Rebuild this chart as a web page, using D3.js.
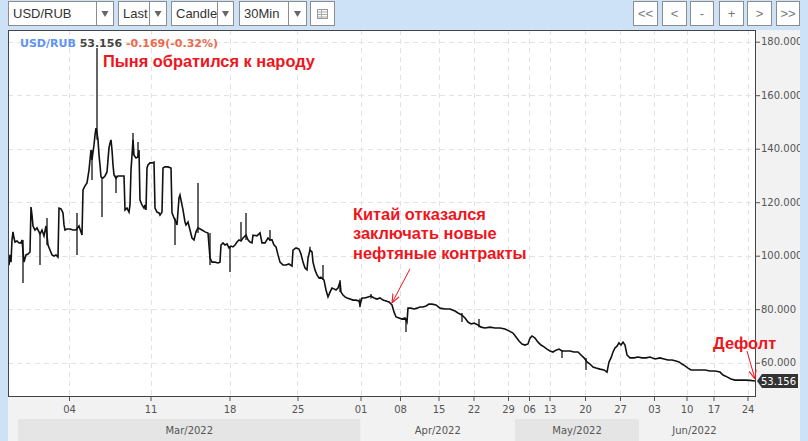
<!DOCTYPE html>
<html><head><meta charset="utf-8">
<script src="https://cdn.jsdelivr.net/npm/d3@7"></script>
<style>
html,body{margin:0;padding:0;background:#cde1f7;overflow:hidden}
svg{display:block}
</style></head><body>
<svg id="c" width="808" height="441"></svg>
<script>
// ---------- DATA ----------
const symbol = "USD/RUB";
const lastPrice = 53.156;
const change = -0.169;
const changePct = -0.32;
const toolbarSelects = ["USD/RUB", "Last", "Candle", "30Min"];
const navButtons = ["<<", "<", "-", "+", ">", ">>"];

// 30-min bar index -> close price
const closeSeries = [[2,96.5],[4,100.3],[6,97.6],[8,105.9],[10,108.9],[12,106.6],[14,105.1],[18,105.5],[22,104.8],[26,104.8],[28,105.9],[32,97.6],[36,100.3],[40,100.6],[44,101.4],[46,118.2],[48,115.2],[50,111.1],[54,109.6],[58,110.4],[62,108.9],[64,108.1],[68,109.6],[72,107.4],[76,111.1],[80,104.0],[84,102.1],[88,100.3],[92,99.9],[96,100.3],[100,99.5],[102,117.8],[106,117.5],[110,116.0],[112,111.5],[114,109.6],[118,110.0],[124,110.0],[130,109.6],[136,109.6],[142,111.1],[146,108.9],[148,107.7],[150,124.6],[154,126.1],[158,127.2],[162,132.0],[164,135.8],[166,139.5],[168,135.8],[172,141.4],[174,145.1],[176,147.7],[178,145.9],[180,143.3],[182,137.6],[184,133.9],[186,129.4],[190,129.0],[194,129.8],[198,131.3],[200,135.8],[202,140.3],[204,142.1],[206,143.3],[208,139.5],[210,133.9],[212,130.2],[216,129.0],[220,129.8],[226,129.8],[232,129.8],[234,117.1],[238,117.8],[242,116.3],[244,119.0],[246,132.0],[248,137.6],[250,143.3],[252,137.6],[256,136.5],[260,136.9],[262,139.5],[264,120.8],[268,119.0],[272,117.8],[274,119.0],[276,117.1],[278,132.8],[280,133.9],[284,134.7],[288,134.7],[292,135.0],[294,117.8],[298,116.3],[302,116.0],[304,115.2],[308,116.3],[310,132.8],[314,133.2],[320,133.2],[326,132.8],[328,116.0],[332,114.1],[336,112.6],[338,111.5],[342,121.6],[344,122.7],[346,120.8],[350,117.1],[354,112.6],[356,111.5],[360,112.6],[364,109.6],[368,106.6],[372,105.9],[376,108.9],[380,110.4],[388,109.6],[394,108.9],[400,108.5],[404,99.1],[408,97.6],[414,97.6],[420,97.3],[424,97.6],[426,104.0],[430,104.8],[434,104.0],[438,104.4],[442,102.9],[446,103.6],[450,103.3],[454,104.0],[458,105.1],[462,105.9],[466,105.5],[470,106.6],[476,107.7],[480,105.9],[484,105.1],[488,104.8],[490,107.7],[498,107.4],[504,108.5],[508,104.8],[514,104.8],[520,106.6],[524,105.9],[528,105.9],[532,104.0],[536,103.3],[540,100.3],[544,97.6],[550,96.5],[556,96.5],[562,96.9],[568,96.1],[570,102.1],[576,102.9],[582,102.5],[586,100.6],[590,97.6],[594,95.4],[598,94.7],[600,99.1],[604,102.1],[608,101.4],[610,97.6],[614,94.7],[618,92.8],[622,91.7],[626,92.0],[632,90.9],[636,87.2],[640,84.6],[644,86.4],[648,87.9],[652,87.6],[656,87.2],[660,87.9],[664,90.2],[666,86.4],[670,85.3],[674,84.6],[678,84.2],[684,83.8],[690,83.4],[696,83.4],[702,83.1],[704,81.6],[708,84.2],[714,84.2],[720,84.6],[726,84.9],[732,84.2],[738,83.8],[744,84.2],[750,83.4],[756,83.1],[762,82.7],[768,81.6],[772,79.0],[776,77.1],[782,76.7],[788,76.3],[794,76.7],[798,75.2],[800,80.4],[806,80.4],[812,80.1],[818,80.4],[824,80.8],[830,80.8],[836,81.2],[842,81.9],[848,81.9],[856,81.6],[864,80.4],[874,80.1],[884,80.1],[894,79.3],[900,78.6],[908,77.8],[914,76.7],[920,75.2],[926,74.5],[932,74.8],[940,74.1],[946,73.3],[954,73.0],[964,73.3],[974,73.0],[984,73.0],[994,72.6],[1002,71.9],[1010,71.1],[1016,69.6],[1022,68.1],[1028,67.0],[1034,66.6],[1040,67.0],[1044,69.2],[1048,70.0],[1054,69.2],[1060,67.7],[1066,66.6],[1072,65.9],[1078,65.1],[1084,64.4],[1090,64.0],[1096,64.7],[1102,65.1],[1108,64.4],[1116,64.4],[1124,64.4],[1132,64.0],[1140,64.0],[1146,62.9],[1152,61.8],[1158,60.3],[1164,59.5],[1170,58.4],[1176,58.0],[1184,57.6],[1192,57.3],[1198,56.5],[1202,60.3],[1206,61.8],[1210,64.0],[1214,65.5],[1218,66.2],[1222,67.4],[1226,66.6],[1230,67.7],[1234,66.6],[1238,62.9],[1244,61.8],[1252,61.8],[1260,62.1],[1268,61.8],[1276,61.8],[1284,62.1],[1294,61.4],[1304,61.8],[1312,61.4],[1320,61.0],[1328,61.0],[1336,60.6],[1342,60.3],[1348,59.5],[1354,58.8],[1360,58.0],[1366,57.3],[1374,57.3],[1384,57.3],[1394,57.3],[1404,56.9],[1414,56.9],[1424,56.5],[1430,55.4],[1438,54.7],[1446,53.9],[1454,53.5],[1464,53.5],[1474,53.5],[1484,53.4],[1494,53.156]];

// bar index, low, high (long candle wicks)
const wicks = [[30,89.8,105.9],[64,96.5,108.1],[78,104.0,114.1],[138,100.3,116.0],[168,128.3,139.5],[178,143.3,177.6],[188,114.5,129.4],[216,123.4,130.0],[250,137.6,145.9],[260,136.5,142.5],[334,104.0,114.0],[380,108.5,127.2],[404,96.5,108.5],[444,93.9,103.6],[466,105.5,112.6],[476,105.9,116.0],[524,105.5,109.6],[604,101.4,103.3],[630,90.9,96.5],[664,86.4,90.9],[704,80.8,84.0],[726,84.0,85.7],[796,71.5,76.7],[908,75.2,78.6],[942,73.3,76.3],[1108,61.8,64.7],[1156,57.3,61.8]];

const dayTickLabels = ["04","11","18","25","01","08","15","22","29","06","13","20","27","03","10","17","24"];
const dayTickBars   = [122,285,443,579,705,784,861,931,1000,1042,1083,1154,1224,1292,1357,1411,1479];
const monthLabels = ["Feb/2022","Mar/2022","Apr/2022","May/2022","Jun/2022"];
const monthStartBars = [0,20,705,1014,1262];
const priceTicks = [60,80,100,120,140,160,180];
const totalBars = 1496;
const priceMin = 47.18, priceMax = 184.37;

const annotations = [
  {lines:["Пыня обратился к народу"], bar:178, price:177.6, dx:6, dy:19, arrow:false},
  {lines:["Китай отказался","заключать новые","нефтяные контракты"], bar:768, price:81.6, dx:-39, dy:-85, arrow:true, ax:18, ay:-36},
  {lines:["Дефолт"], bar:1494, price:53.156, dx:-42, dy:-32, arrow:true, ax:-8, ay:-30}
];

// ---------- LAYOUT ----------
const svg = d3.select("#c");
const P = {l:8, t:30, r:756, b:397};
const axisRightEdge = 800;
const x = d3.scaleLinear().domain([0,totalBars]).range([P.l,P.r]);
const y = d3.scaleLinear().domain([priceMin,priceMax]).range([P.b,P.t]);
const FONT_UI = "'Liberation Sans', Arial, sans-serif";
const FONT_AX = "'DejaVu Sans', sans-serif";
const loc = d3.formatLocale({decimal:".", thousands:",", grouping:[3], currency:["",""], minus:"-"});
const f3 = loc.format(".3f"), f2 = loc.format(".2f");

// ---------- toolbar ----------
const selBoxes = [[8,113,96],[118,166,149],[171,233,217],[239,306,288]];
const defs = svg.append("defs");
selBoxes.forEach((b,i)=>{
  const g = svg.append("g");
  g.append("rect").attr("x",b[0]+0.5).attr("y",1.5).attr("width",b[1]-b[0]).attr("height",24)
    .attr("fill","#fff").attr("stroke","#8c8c8c");
  g.append("line").attr("x1",b[2]+0.5).attr("x2",b[2]+0.5).attr("y1",2).attr("y2",25).attr("stroke","#8c8c8c");
  defs.append("clipPath").attr("id","sc"+i).append("rect").attr("x",b[0]+1).attr("y",2).attr("width",b[2]-b[0]-1).attr("height",23);
  g.append("text").attr("x",b[0]+5).attr("y",18).attr("clip-path",`url(#sc${i})`)
    .attr("font-family",FONT_UI).attr("font-size",13).attr("fill","#333").text(toolbarSelects[i]);
  const cx = (b[2]+b[1])/2+0.5;
  g.append("path").attr("d",`M${cx-3.5},11 L${cx+3.5},11 L${cx},17 Z`).attr("fill","#666");
});
// icon box
const ib = svg.append("g");
ib.append("rect").attr("x",310.5).attr("y",1.5).attr("width",24).attr("height",24).attr("fill","#fff").attr("stroke","#8c8c8c");
ib.append("rect").attr("x",317.5).attr("y",9.5).attr("width",10).attr("height",9).attr("fill","none").attr("stroke","#999");
[12,14.5,17].forEach(v=>ib.append("line").attr("x1",318).attr("x2",327).attr("y1",v).attr("y2",v).attr("stroke","#aaa"));
ib.append("line").attr("x1",321.5).attr("x2",321.5).attr("y1",10).attr("y2",18).attr("stroke","#aaa");
// nav buttons
const navX = [633,662,690,719,747,776];
navButtons.forEach((t,i)=>{
  const w = (i===2||i===5)?23:24;
  svg.append("rect").attr("x",navX[i]+0.5).attr("y",1.5).attr("width",w).attr("height",24).attr("fill","#fff").attr("stroke","#8c8c8c");
  svg.append("text").attr("x",navX[i]+w/2+0.5).attr("y",18).attr("text-anchor","middle")
    .attr("font-family",FONT_UI).attr("font-size",13).attr("fill","#777").text(t);
});

// ---------- axis backgrounds ----------
svg.append("rect").attr("x",P.r).attr("y",P.t).attr("width",axisRightEdge-P.r).attr("height",P.b-P.t).attr("fill","#f2f2f3");
svg.append("rect").attr("x",P.l).attr("y",P.b).attr("width",axisRightEdge-P.l).attr("height",441-P.b).attr("fill","#f2f2f2");
// month bands
const bandTop = 419;
monthLabels.forEach((m,i)=>{
  const x0 = x(monthStartBars[i]);
  const x1 = i<monthLabels.length-1 ? x(monthStartBars[i+1]) : axisRightEdge;
  const xl = i<monthLabels.length-1 ? x1 : P.r;
  svg.append("rect").attr("x",x0).attr("y",bandTop).attr("width",x1-x0).attr("height",441-bandTop)
    .attr("fill", i%2===1 ? "#e5e5e5" : "#f2f2f2");
  if (x1-x0 > 50) {
    svg.append("text").attr("x",(x0+xl)/2 - (i===monthLabels.length-1?3:0)).attr("y",434).attr("text-anchor","middle")
      .attr("font-family",FONT_AX).attr("font-size",10).attr("fill","#555").text(m);
  }
});

// ---------- plot ----------
svg.append("rect").attr("x",P.l).attr("y",P.t).attr("width",P.r-P.l).attr("height",P.b-P.t).attr("fill","#fff");
const grid = svg.append("g").attr("stroke","#e2e2e2").attr("stroke-dasharray","5,4");
priceTicks.forEach(v=>grid.append("line").attr("x1",P.l).attr("x2",P.r).attr("y1",Math.round(y(v))+0.5).attr("y2",Math.round(y(v))+0.5));
dayTickBars.forEach(b=>grid.append("line").attr("y1",P.t).attr("y2",P.b).attr("x1",Math.round(x(b))+0.5).attr("x2",Math.round(x(b))+0.5));

defs.append("clipPath").attr("id","plotclip").append("rect").attr("x",P.l).attr("y",P.t).attr("width",P.r-P.l).attr("height",P.b-P.t);
const plot = svg.append("g").attr("clip-path","url(#plotclip)");
plot.selectAll("line.w").data(wicks).join("line").attr("class","w")
  .attr("x1",d=>x(d[0])).attr("x2",d=>x(d[0])).attr("y1",d=>y(d[1])).attr("y2",d=>y(d[2]))
  .attr("stroke","#111").attr("stroke-width",1.3);
const line = d3.line().x(d=>x(d[0])).y(d=>y(d[1]));
plot.append("path").datum(closeSeries).attr("d",line).attr("fill","none")
  .attr("stroke","#111").attr("stroke-width",1.6).attr("stroke-linejoin","miter");

// border
svg.append("rect").attr("x",P.l+0.5).attr("y",P.t+0.5).attr("width",P.r-P.l-1).attr("height",P.b-P.t-1)
  .attr("fill","none").attr("stroke","#444");

// axes
const yAxis = d3.axisRight(y).tickValues(priceTicks).tickFormat(f3).tickSize(4).tickPadding(1);
const ya = svg.append("g").attr("transform",`translate(${P.r},0)`).call(yAxis);
const xAxis = d3.axisBottom(x).tickValues(dayTickBars).tickFormat((d,i)=>dayTickLabels[i]).tickSize(4).tickPadding(5);
const xa = svg.append("g").attr("transform",`translate(0,${P.b})`).call(xAxis);
[ya,xa].forEach(a=>{
  a.select(".domain").remove();
  a.selectAll("line").attr("stroke","#555");
  a.selectAll("text").attr("font-family",FONT_AX).attr("font-size",10).attr("fill","#555");
});

// last price tag
const ly = y(lastPrice);
svg.append("path").attr("d",`M${P.r+1},${ly} L${P.r+6},${ly-7} L798,${ly-7} L798,${ly+7} L${P.r+6},${ly+7} Z`).attr("fill","#333");
svg.append("text").attr("x",778.5).attr("y",ly+3.6).attr("text-anchor","middle")
  .attr("font-family",FONT_AX).attr("font-size",10).attr("fill","#fff").text(f3(lastPrice));

// right blue margin covers overflow
svg.append("rect").attr("x",axisRightEdge).attr("y",0).attr("width",8).attr("height",441).attr("fill","#cde1f7");

// legend
const lg = svg.append("text").attr("x",20).attr("y",47).attr("font-family",FONT_AX).attr("font-size",11).attr("font-weight","bold");
lg.append("tspan").attr("fill","#6094f0").text(symbol+" ");
lg.append("tspan").attr("fill","#444").text(f3(lastPrice)+" ");
lg.append("tspan").attr("fill","#ec6a4e").text(f3(change)+"("+f2(changePct)+"%)");

// annotations
const red = "#f0141c";
defs.append("marker").attr("id","arr").attr("viewBox","0 0 10 10").attr("refX",10).attr("refY",5)
  .attr("markerWidth",9).attr("markerHeight",9).attr("orient","auto").attr("markerUnits","userSpaceOnUse")
  .append("path").attr("d","M0,1 L10,5 L0,9").attr("fill","none").attr("stroke",red).attr("stroke-width",1.2);
annotations.forEach(a=>{
  const px = x(a.bar), py = y(a.price);
  const t = svg.append("text").attr("font-family",FONT_UI).attr("font-size",16.4).attr("font-weight","bold").attr("fill",red);
  a.lines.forEach((l,i)=>t.append("tspan").attr("x",px+a.dx).attr("y",py+a.dy+i*19.5).text(l));
  if (a.arrow) {
    svg.append("line").attr("x1",px+a.ax).attr("y1",py+a.ay).attr("x2",px).attr("y2",py-2)
      .attr("stroke",red).attr("stroke-width",1).attr("marker-end","url(#arr)");
  }
});
</script>
</body></html>
